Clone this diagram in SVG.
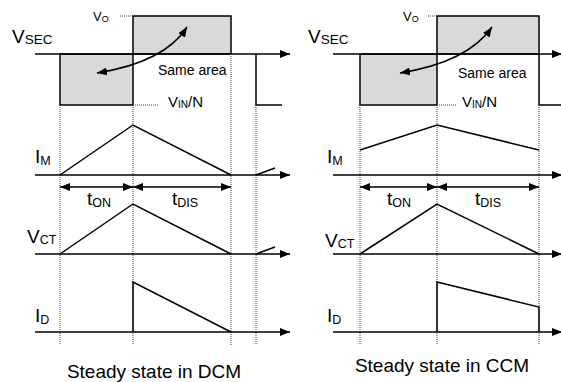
<svg xmlns="http://www.w3.org/2000/svg" width="561" height="382" viewBox="0 0 561 382">
<style>
text{font-family:"Liberation Sans",Arial,sans-serif;fill:#000}
.ax{stroke:#000;stroke-width:1.5;fill:none}
.wv{stroke:#000;stroke-width:1.5;fill:none;stroke-linejoin:miter}
.dot{stroke:#444;stroke-width:1;stroke-dasharray:1,1;fill:none}
.area{fill:#d9d9d9;stroke:#000;stroke-width:1.5}
.big{font-size:19px}
.sub{font-size:12.5px}
.lbl{font-size:14px}
.vin{font-size:15px}
.vo{font-size:13px}
.cap{font-size:19px}
</style>
<defs>
<marker id="ah" viewBox="0 0 10 8" refX="10" refY="4" markerWidth="10" markerHeight="8" orient="auto-start-reverse" markerUnits="userSpaceOnUse"><path d="M0,0 L10,4 L0,8 z" fill="#000"/></marker>
</defs>

<g id="dcm">
  <g id="dcm-vsec">
    <rect class="area" x="60" y="54" width="73" height="51"/>
    <rect class="area" x="133" y="16" width="98" height="38"/>
    <line class="ax" x1="35" y1="54" x2="290" y2="54" marker-end="url(#ah)"/>
    <polyline class="wv" points="256,54 256,105 282,105"/>
    <line class="dot" x1="120" y1="16" x2="133" y2="16"/>
    <line class="dot" x1="133" y1="105" x2="158" y2="105"/>
    <text class="big" x="12" y="43">V<tspan font-size="13.5px" dy="1">SEC</tspan></text>
    <text class="vo" x="93" y="21">V<tspan font-size="9px" dy="1">O</tspan></text>
    <text class="vin" x="168" y="107">V<tspan font-size="10px" dy="1">IN</tspan><tspan dy="-1">/N</tspan></text>
    <text class="lbl" x="158" y="75">Same area</text>
    <path class="ax" d="M97,73 Q165,62 187,27" marker-start="url(#ah)" marker-end="url(#ah)"/>
  </g>
  <g id="dcm-grid">
    <line class="dot" x1="60" y1="105" x2="60" y2="345"/>
    <line class="dot" x1="133" y1="105" x2="133" y2="345"/>
    <line class="dot" x1="231" y1="54" x2="231" y2="345"/>
    <line class="dot" x1="256" y1="105" x2="256" y2="345"/>
  </g>
  <g id="dcm-im">
    <line class="ax" x1="35" y1="175" x2="290" y2="175" marker-end="url(#ah)"/>
    <polyline class="wv" points="60,175 133,125 231,175"/>
    <line class="wv" x1="256" y1="175" x2="275" y2="168"/>
    <text class="big" x="35" y="163">I<tspan class="sub" dy="2">M</tspan></text>
  </g>
  <g id="dcm-times">
    <line class="ax" x1="60" y1="187" x2="133" y2="187" marker-start="url(#ah)" marker-end="url(#ah)"/>
    <line class="ax" x1="133" y1="187" x2="231" y2="187" marker-start="url(#ah)" marker-end="url(#ah)"/>
    <text class="big" x="87" y="205">t<tspan class="sub" dy="2">ON</tspan></text>
    <text class="big" x="172" y="205">t<tspan class="sub" dy="2">DIS</tspan></text>
  </g>
  <g id="dcm-vct">
    <line class="ax" x1="35" y1="254" x2="290" y2="254" marker-end="url(#ah)"/>
    <polyline class="wv" points="60,254 133,204 231,254"/>
    <line class="wv" x1="256" y1="254" x2="275" y2="247"/>
    <text class="big" x="27" y="243">V<tspan class="sub" dy="1">CT</tspan></text>
  </g>
  <g id="dcm-id">
    <line class="ax" x1="35" y1="332" x2="290" y2="332" marker-end="url(#ah)"/>
    <polyline class="wv" points="133,332 133,282 231,332"/>
    <text class="big" x="35" y="322">I<tspan class="sub" dy="2">D</tspan></text>
  </g>
  <text class="cap" x="154" y="378" text-anchor="middle">Steady state in DCM</text>
</g>

<g id="ccm">
  <g id="ccm-vsec">
    <rect class="area" x="360" y="54" width="77" height="51"/>
    <rect class="area" x="437" y="16" width="102" height="38"/>
    <line class="ax" x1="333" y1="54" x2="562" y2="54" marker-end="url(#ah)"/>
    <polyline class="wv" points="539,54 539,105 561,105"/>
    <line class="dot" x1="428" y1="16" x2="437" y2="16"/>
    <line class="dot" x1="437" y1="105" x2="457" y2="105"/>
    <text class="big" x="308" y="43">V<tspan font-size="13.5px" dy="1">SEC</tspan></text>
    <text class="vo" x="403" y="21">V<tspan font-size="9px" dy="1">O</tspan></text>
    <text class="vin" x="462" y="107">V<tspan font-size="10px" dy="1">IN</tspan><tspan dy="-1">/N</tspan></text>
    <text class="lbl" x="458" y="78">Same area</text>
    <path class="ax" d="M400,73 Q468,62 492,27" marker-start="url(#ah)" marker-end="url(#ah)"/>
  </g>
  <g id="ccm-grid">
    <line class="dot" x1="360" y1="105" x2="360" y2="345"/>
    <line class="dot" x1="437" y1="105" x2="437" y2="345"/>
    <line class="dot" x1="539" y1="105" x2="539" y2="345"/>
  </g>
  <g id="ccm-im">
    <line class="ax" x1="333" y1="175" x2="562" y2="175" marker-end="url(#ah)"/>
    <polyline class="wv" points="360,150 437,125 539,150"/>
    <text class="big" x="327" y="163">I<tspan class="sub" dy="2">M</tspan></text>
  </g>
  <g id="ccm-times">
    <line class="ax" x1="360" y1="187" x2="437" y2="187" marker-start="url(#ah)" marker-end="url(#ah)"/>
    <line class="ax" x1="437" y1="187" x2="539" y2="187" marker-start="url(#ah)" marker-end="url(#ah)"/>
    <text class="big" x="387" y="205">t<tspan class="sub" dy="2">ON</tspan></text>
    <text class="big" x="475" y="205">t<tspan class="sub" dy="2">DIS</tspan></text>
  </g>
  <g id="ccm-vct">
    <line class="ax" x1="333" y1="254" x2="562" y2="254" marker-end="url(#ah)"/>
    <polyline class="wv" points="360,254 437,204 539,254"/>
    <text class="big" x="325" y="247">V<tspan class="sub" dy="1">CT</tspan></text>
  </g>
  <g id="ccm-id">
    <line class="ax" x1="333" y1="332" x2="562" y2="332" marker-end="url(#ah)"/>
    <polyline class="wv" points="437,332 437,282 539,307 539,332"/>
    <text class="big" x="327" y="322">I<tspan class="sub" dy="2">D</tspan></text>
  </g>
  <text class="cap" x="442" y="372" text-anchor="middle">Steady state in CCM</text>
</g>
</svg>
